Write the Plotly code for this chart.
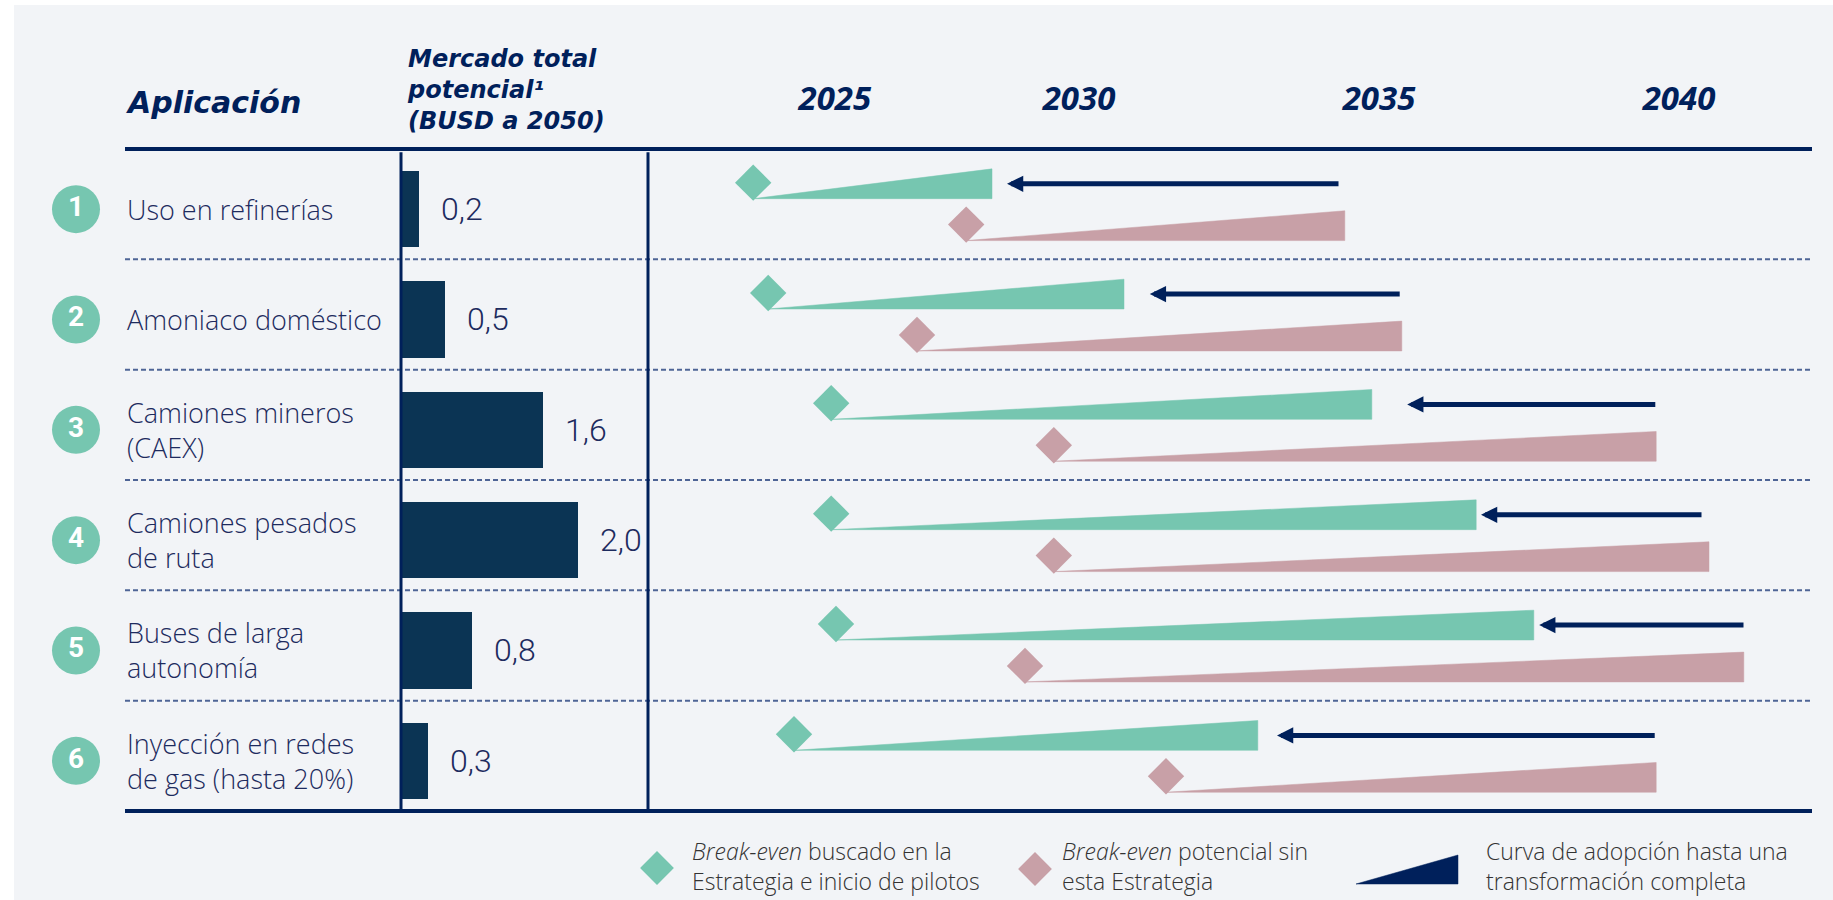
import plotly.graph_objects as go

W, H = 1833, 900

# ---------------- data ----------------
APPLICATIONS = [
    "Uso en refinerías",
    "Amoniaco doméstico",
    "Camiones mineros<br>(CAEX)",
    "Camiones pesados<br>de ruta",
    "Buses de larga<br>autonomía",
    "Inyección en redes<br>de gas (hasta 20%)",
]
ROW_NUMBERS = ["1", "2", "3", "4", "5", "6"]
MARKET_BUSD = [0.2, 0.5, 1.6, 2.0, 0.8, 0.3]

GREEN_START = [2024.57, 2024.82, 2025.87, 2025.87, 2025.95, 2025.25]
GREEN_END = [2028.55, 2030.75, 2034.88, 2036.62, 2037.58, 2032.98]
PINK_START = [2028.12, 2027.30, 2029.58, 2029.58, 2029.10, 2031.45]
PINK_END = [2034.43, 2035.38, 2039.62, 2040.50, 2041.08, 2039.62]
ARROW_FROM = [2034.35, 2035.37, 2039.63, 2040.40, 2041.10, 2039.62]
ARROW_TO = [2028.80, 2031.18, 2035.47, 2036.70, 2037.67, 2033.30]

YEAR_TICK_VALUES = [2025.93, 2030, 2035, 2040]
YEAR_TICK_LABELS = ["2025", "2030", "2035", "2040"]

LEGEND_TEXTS = [
    "<i>Break-even</i> buscado en la<br>Estrategia e inicio de pilotos",
    "<i>Break-even</i> potencial sin<br>esta Estrategia",
    "Curva de adopción hasta una<br>transformación completa",
]

# ---------------- styles ----------------
BG = "#f2f4f7"
GREEN = "#76c6b0"
PINK = "#c8a0a7"
NAVY = "#00205b"
BAR = "#0b3454"
TEXT = "#1d2b5e"
LEGEND_TEXT = "#333333"
DASH = "#4f6596"

HEAD_FONT = "DejaVu Sans"
YEAR_FONT = "Open Sans"
BODY_FONT = "Open Sans"
NUM_FONT = "Roboto"

# layout geometry (pixels)
ROW_TOP_PX, ROW_BOTTOM_PX, N_ROWS = 149, 811, 6
ROW_PX = (ROW_BOTTOM_PX - ROW_TOP_PX) / N_ROWS
Y_RANGE = [(H - ROW_TOP_PX) / ROW_PX, -ROW_TOP_PX / ROW_PX]

YEAR_REF, YEAR_REF_PX, PX_PER_YEAR = 2030, 1079, 60.0
X_RANGE = [YEAR_REF - YEAR_REF_PX / PX_PER_YEAR, YEAR_REF + (W - YEAR_REF_PX) / PX_PER_YEAR]

BAR_ZERO_PX, PX_PER_BUSD = 401, 88.5
X2_RANGE = [-BAR_ZERO_PX / PX_PER_BUSD, (W - BAR_ZERO_PX) / PX_PER_BUSD]

GREEN_BASE_OFF, PINK_BASE_OFF, WEDGE_H = 0.45, 0.83, 0.27
DIAMOND_LIFT = 0.145
LEFT_CENTER_OFF = 0.545
LINE_L_PX, LINE_R_PX = 125, 1812
COL_LINE_PX = [401, 648]

fig = go.Figure()

# wedges + diamonds
for i in range(N_ROWS):
    gb = i + GREEN_BASE_OFF
    pb = i + PINK_BASE_OFF
    fig.add_trace(go.Scatter(
        x=[GREEN_START[i], GREEN_END[i], GREEN_END[i], GREEN_START[i]],
        y=[gb, gb - WEDGE_H, gb, gb], mode="lines", fill="toself",
        fillcolor=GREEN, line=dict(color=GREEN, width=0.5), hoverinfo="skip"))
    fig.add_trace(go.Scatter(
        x=[PINK_START[i], PINK_END[i], PINK_END[i], PINK_START[i]],
        y=[pb, pb - WEDGE_H, pb, pb], mode="lines", fill="toself",
        fillcolor=PINK, line=dict(color=PINK, width=0.5), hoverinfo="skip"))

fig.add_trace(go.Scatter(
    x=GREEN_START, y=[i + GREEN_BASE_OFF - DIAMOND_LIFT for i in range(N_ROWS)],
    mode="markers", marker=dict(symbol="diamond", size=28, color=GREEN, line=dict(width=0)),
    hoverinfo="skip"))
fig.add_trace(go.Scatter(
    x=PINK_START, y=[i + PINK_BASE_OFF - DIAMOND_LIFT for i in range(N_ROWS)],
    mode="markers", marker=dict(symbol="diamond", size=28, color=PINK, line=dict(width=0)),
    hoverinfo="skip"))

# bars
fig.add_trace(go.Bar(
    x=MARKET_BUSD, y=[i + LEFT_CENTER_OFF for i in range(N_ROWS)], orientation="h",
    width=0.69, marker=dict(color=BAR, line=dict(width=0)), xaxis="x2", yaxis="y",
    hoverinfo="skip"))

# number badges
fig.add_trace(go.Scatter(
    x=[76] * N_ROWS, y=[i + LEFT_CENTER_OFF for i in range(N_ROWS)],
    mode="markers+text", text=[f"<b>{n}</b>" for n in ROW_NUMBERS],
    textposition="middle center",
    textfont=dict(family=NUM_FONT, size=28, color="white"),
    marker=dict(symbol="circle", size=48, color=GREEN, line=dict(width=0)),
    xaxis="x3", yaxis="y", hoverinfo="skip"))

# legend glyphs (pixel space)
fig.add_trace(go.Scatter(
    x=[657], y=[868], mode="markers", xaxis="x3", yaxis="y2",
    marker=dict(symbol="diamond", size=26, color=GREEN), hoverinfo="skip"))
fig.add_trace(go.Scatter(
    x=[1035], y=[869], mode="markers", xaxis="x3", yaxis="y2",
    marker=dict(symbol="diamond", size=26, color=PINK), hoverinfo="skip"))
fig.add_trace(go.Scatter(
    x=[1356, 1458, 1458, 1356], y=[884, 855, 884, 884], mode="lines", fill="toself",
    fillcolor=NAVY, line=dict(color=NAVY, width=0.5), xaxis="x3", yaxis="y2",
    hoverinfo="skip"))

annotations = []
# arrows
for i in range(N_ROWS):
    ym = i + GREEN_BASE_OFF - WEDGE_H / 2
    annotations.append(dict(
        x=ARROW_TO[i], y=ym, ax=ARROW_FROM[i], ay=ym, xref="x", yref="y",
        axref="x", ayref="y", text="", showarrow=True, arrowhead=2,
        arrowsize=0.65, arrowwidth=5, arrowcolor=NAVY, standoff=0, startstandoff=0))

# row labels
for i, lab in enumerate(APPLICATIONS):
    annotations.append(dict(
        x=LINE_L_PX, y=i + LEFT_CENTER_OFF, xref="x3", yref="y", text=lab,
        showarrow=False, xanchor="left", yanchor="middle", align="left",
        font=dict(family=BODY_FONT, size=27, color=TEXT, weight=300)))

# value labels
for i, v in enumerate(MARKET_BUSD):
    annotations.append(dict(
        x=v, y=i + LEFT_CENTER_OFF, xref="x2", yref="y",
        text=f"{v:.1f}".replace(".", ","), showarrow=False, xanchor="left",
        yanchor="middle", xshift=20,
        font=dict(family=NUM_FONT, size=32, color=TEXT, weight=300)))

# headers
annotations.append(dict(
    x=124, y=102, xref="x3", yref="y2", text="<b><i>Aplicación</i></b>",
    showarrow=False, xanchor="left", yanchor="middle",
    font=dict(family=HEAD_FONT, size=30, color=NAVY)))
annotations.append(dict(
    x=405, y=90, xref="x3", yref="y2",
    text="<b><i>Mercado total<br>potencial¹<br>(BUSD a 2050)</i></b>",
    showarrow=False, xanchor="left", yanchor="middle", align="left",
    font=dict(family=HEAD_FONT, size=24, color=NAVY)))

# legend texts
for x0, t in zip([690, 1060, 1484], LEGEND_TEXTS):
    annotations.append(dict(
        x=x0, y=866, xref="x3", yref="y2", text=t, showarrow=False,
        xanchor="left", yanchor="middle", align="left",
        font=dict(family=BODY_FONT, size=23, color=LEGEND_TEXT, weight=300)))

shapes = [
    dict(type="rect", xref="paper", yref="paper", x0=14 / W, x1=1, y0=0, y1=1 - 5 / H,
         fillcolor=BG, line=dict(width=0), layer="below"),
]
for k in range(1, N_ROWS):
    shapes.append(dict(type="line", xref="x3", yref="y", x0=LINE_L_PX, x1=LINE_R_PX,
                       y0=k, y1=k, line=dict(color=DASH, width=2, dash="5px,3px")))
for k in (0, N_ROWS):
    shapes.append(dict(type="line", xref="x3", yref="y", x0=LINE_L_PX, x1=LINE_R_PX,
                       y0=k, y1=k, line=dict(color=NAVY, width=4)))
for xp in COL_LINE_PX:
    shapes.append(dict(type="line", xref="x3", yref="y", x0=xp, x1=xp,
                       y0=0.03, y1=N_ROWS, line=dict(color=NAVY, width=3)))

fig.update_layout(
    width=W, height=H, margin=dict(l=0, r=0, t=0, b=0),
    paper_bgcolor="white", plot_bgcolor="rgba(0,0,0,0)", showlegend=False,
    xaxis=dict(domain=[0, 1], range=X_RANGE, anchor="free", position=1 - 117 / H,
               side="top", showgrid=False, zeroline=False, showline=False, ticks="",
               tickvals=YEAR_TICK_VALUES,
               ticktext=[f"<b><i>{t}</i></b>" for t in YEAR_TICK_LABELS],
               tickfont=dict(family=YEAR_FONT, size=33, color=NAVY), fixedrange=True),
    xaxis2=dict(domain=[0, 1], range=X2_RANGE, overlaying="x", anchor="y", visible=False),
    xaxis3=dict(domain=[0, 1], range=[0, W], overlaying="x", anchor="y", visible=False),
    yaxis=dict(domain=[0, 1], range=Y_RANGE, visible=False),
    yaxis2=dict(domain=[0, 1], range=[H, 0], overlaying="y", anchor="x3", visible=False),
    annotations=annotations, shapes=shapes, bargap=0,
)

fig.write_html("out.html", config={"displayModeBar": False},
               post_script="document.body.style.margin='0';")
